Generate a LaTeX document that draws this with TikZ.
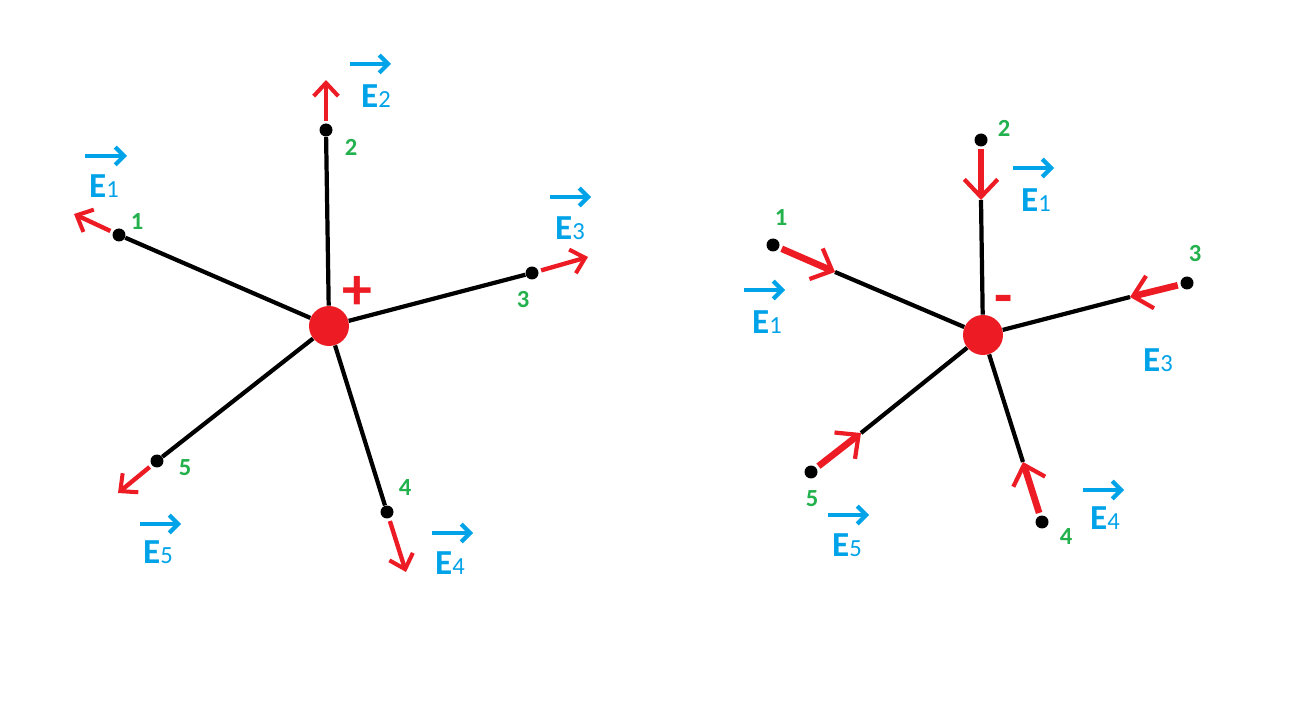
\documentclass[tikz,border=0pt]{standalone}
\usepackage{fontspec}
\setmainfont{Carlito}
\usetikzlibrary{arrows.meta}
\definecolor{qred}{RGB}{237,28,36}
\definecolor{qblue}{RGB}{0,162,232}
\definecolor{qgreen}{RGB}{34,177,76}
\newcommand{\Efield}[1]{{\fontsize{20}{20}\selectfont\bfseries E}{\fontsize{14}{14}\selectfont #1}}
\tikzset{
  charge/.style={circle, fill=qred, minimum size=0.8cm, inner sep=0pt},
  pt/.style={circle, fill=black, minimum size=0.26cm, inner sep=0pt},
  ray/.style={line width=2.4pt, black},
  field/.style={line width=2.5pt, qred, shorten <=1.5pt, -{Straight Barb[length=7.5pt,width=14pt,line width=2.3pt]}},
  fieldin/.style={line width=3.8pt, qred, shorten <=1.5pt, -{Straight Barb[length=10pt,width=19pt,line width=2.4pt]}},
  vec/.style={line width=2.4pt, qblue, -{Straight Barb[length=5pt,width=10pt]}},
  num/.style={text=qgreen, inner sep=0pt, font=\fontsize{14}{14}\selectfont\bfseries},
  lbl/.style={text=qblue, inner sep=0pt},
  sign/.style={text=qred, inner sep=0pt, font=\fontsize{34}{34}\selectfont\bfseries}
}
\begin{document}
\begin{tikzpicture}[x=0.02cm, y=-0.02cm]
\useasboundingbox (0,0) rectangle (1296,716);
% positive charge
\node[charge] (Q_L) at (329,326) {};
\node[sign] (S_L) at (357,293) {+};
\node[pt] (P_L_1) at (119,235) {};
\node[pt] (P_L_2) at (326,130) {};
\node[pt] (P_L_3) at (532,273) {};
\node[pt] (P_L_4) at (387,512) {};
\node[pt] (P_L_5) at (157,461) {};
\draw[ray] (Q_L) -- (P_L_1);
\draw[ray] (Q_L) -- (P_L_2);
\draw[ray] (Q_L) -- (P_L_3);
\draw[ray] (Q_L) -- (P_L_4);
\draw[ray] (Q_L) -- (P_L_5);
\coordinate (F_L_1) at (74,214);
\coordinate (F_L_2) at (326,80);
\coordinate (F_L_3) at (588,257);
\coordinate (F_L_4) at (406,572);
\coordinate (F_L_5) at (118,493);
\draw[field] (P_L_1) -- (F_L_1);
\draw[field] (P_L_2) -- (F_L_2);
\draw[field] (P_L_3) -- (F_L_3);
\draw[field] (P_L_4) -- (F_L_4);
\draw[field] (P_L_5) -- (F_L_5);
\node[num] (N_L_1) at (137,222) {1};
\node[num] (N_L_2) at (351,147) {2};
\node[num] (N_L_3) at (523,300) {3};
\node[num] (N_L_4) at (405,488) {4};
\node[num] (N_L_5) at (185,468) {5};
\node[lbl] (E_L_1) at (104,186) {\Efield{1}};
\node[lbl] (E_L_2) at (376,96) {\Efield{2}};
\node[lbl] (E_L_3) at (570,228) {\Efield{3}};
\node[lbl] (E_L_4) at (450,563) {\Efield{4}};
\node[lbl] (E_L_5) at (158,552) {\Efield{5}};
\coordinate (V_L_1) at (85,156);
\coordinate (W_L_1) at (127,156);
\draw[vec] (V_L_1) -- (W_L_1);
\coordinate (V_L_2) at (350,64);
\coordinate (W_L_2) at (391,64);
\draw[vec] (V_L_2) -- (W_L_2);
\coordinate (V_L_3) at (550,197);
\coordinate (W_L_3) at (591,197);
\draw[vec] (V_L_3) -- (W_L_3);
\coordinate (V_L_4) at (432,533);
\coordinate (W_L_4) at (473,533);
\draw[vec] (V_L_4) -- (W_L_4);
\coordinate (V_L_5) at (140,524);
\coordinate (W_L_5) at (181,524);
\draw[vec] (V_L_5) -- (W_L_5);
% negative charge
\node[charge] (Q_R) at (983,335) {};
\node[sign] (S_R) at (1004,305) {-};
\node[pt] (P_R_1) at (773,245) {};
\node[pt] (P_R_2) at (981,140) {};
\node[pt] (P_R_3) at (1187,283) {};
\node[pt] (P_R_4) at (1042,522) {};
\node[pt] (P_R_5) at (811,472) {};
\coordinate (H_R_1) at (835,272);
\coordinate (H_R_2) at (981,200);
\coordinate (H_R_3) at (1130,297);
\coordinate (H_R_4) at (1023,462);
\coordinate (H_R_5) at (861,433);
\draw[ray] (Q_R) -- (H_R_1);
\draw[ray] (Q_R) -- (H_R_2);
\draw[ray] (Q_R) -- (H_R_3);
\draw[ray] (Q_R) -- (H_R_4);
\draw[ray] (Q_R) -- (H_R_5);
\draw[fieldin] (P_R_1) -- (H_R_1);
\draw[fieldin] (P_R_2) -- (H_R_2);
\draw[fieldin] (P_R_3) -- (H_R_3);
\draw[fieldin] (P_R_4) -- (H_R_4);
\draw[fieldin] (P_R_5) -- (H_R_5);
\node[num] (N_R_1) at (781,218) {1};
\node[num] (N_R_2) at (1004,128) {2};
\node[num] (N_R_3) at (1195,254) {3};
\node[num] (N_R_4) at (1066,537) {4};
\node[num] (N_R_5) at (812,499) {5};
\node[lbl] (E_R_1) at (1036,200) {\Efield{1}};
\node[lbl] (E_R_6) at (767,322) {\Efield{1}};
\node[lbl] (E_R_3) at (1158,360) {\Efield{3}};
\node[lbl] (E_R_4) at (1105,518) {\Efield{4}};
\node[lbl] (E_R_5) at (847,545) {\Efield{5}};
\coordinate (V_R_1) at (1013,168);
\coordinate (W_R_1) at (1054,168);
\draw[vec] (V_R_1) -- (W_R_1);
\coordinate (V_R_6) at (744,290);
\coordinate (W_R_6) at (785,290);
\draw[vec] (V_R_6) -- (W_R_6);
\coordinate (V_R_4) at (1083,490);
\coordinate (W_R_4) at (1124,490);
\draw[vec] (V_R_4) -- (W_R_4);
\coordinate (V_R_5) at (828,515);
\coordinate (W_R_5) at (869,515);
\draw[vec] (V_R_5) -- (W_R_5);
\end{tikzpicture}
\end{document}
